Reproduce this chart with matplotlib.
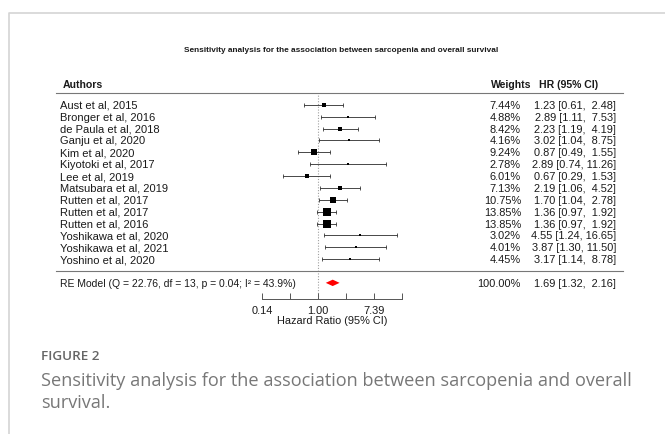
import numpy as np
import matplotlib
matplotlib.use("Agg")
import matplotlib.pyplot as plt
from matplotlib.lines import Line2D
from matplotlib import transforms

# data
authors = ["Aust et al, 2015", "Bronger et al, 2016", "de Paula et al, 2018",
           "Ganju et al, 2020", "Kim et al, 2020", "Kiyotoki et al, 2017",
           "Lee et al, 2019", "Matsubara et al, 2019", "Rutten et al, 2017",
           "Rutten et al, 2017", "Rutten et al, 2016", "Yoshikawa et al, 2020",
           "Yoshikawa et al, 2021", "Yoshino et al, 2020"]
weights = [7.44, 4.88, 8.42, 4.16, 9.24, 2.78, 6.01, 7.13, 10.75, 13.85, 13.85, 3.02, 4.01, 4.45]
hr = [1.23, 2.89, 2.23, 3.02, 0.87, 2.89, 0.67, 2.19, 1.70, 1.36, 1.36, 4.55, 3.87, 3.17]
ci_lo = [0.61, 1.11, 1.19, 1.04, 0.49, 0.74, 0.29, 1.06, 1.04, 0.97, 0.97, 1.24, 1.30, 1.14]
ci_hi = [2.48, 7.53, 4.19, 8.75, 1.55, 11.26, 1.53, 4.52, 2.78, 1.92, 1.92, 16.65, 11.50, 8.78]

pooled_hr, pooled_lo, pooled_hi, pooled_w = 1.69, 1.32, 2.16, 100.00
re_label = "RE Model (Q = 22.76, df = 13, p = 0.04; I\u00b2 = 43.9%)"

log_ticks = [-2, -1, 0, 1, 2, 3]
labelled_ticks = [-2, 0, 2]

W, H = 665, 435
fig = plt.figure(figsize=(W / 100, H / 100), dpi=100)
plt.rcParams["font.family"] = ["Liberation Sans", "DejaVu Sans"]

fs = 8.0
fs_num = 7.9
fs_hdr = 7.6
ink = "#1a1a1a"

# forest axes: x = log scale, y = row number (1 = bottom study)
ax = fig.add_axes([262 / W, 1 - 300 / H, 140 / W, 206 / H])
ax.set_xscale("log")
ticks = np.exp(log_ticks)
ax.set_xlim(ticks[0], ticks[-1])
ax.set_ylim(-2.36, 15)
for s in ["top", "left", "right"]:
    ax.spines[s].set_visible(False)
ax.spines["bottom"].set_color("#555555")
ax.spines["bottom"].set_linewidth(0.7)
ax.set_yticks([])
ax.set_xticks(ticks)
ax.set_xticks([], minor=True)
ax.set_xticklabels([f"{v:.2f}" if t in labelled_ticks else "" for v, t in zip(ticks, log_ticks)],
                   fontsize=fs_num, color=ink)
ax.tick_params(axis="x", direction="in", length=4, width=0.7, color="#555555", pad=4)
ax.set_xlabel("Hazard Ratio (95% CI)", fontsize=fs_num, color=ink, labelpad=0.5)
ax.patch.set_alpha(0)

k = len(authors)
rows = np.arange(k, 0, -1)

ax.axvline(1, color="#a0a0a0", lw=0.8, ls=(0, (1, 1.5)), zorder=0)

wmin, wmax = min(weights), max(weights)
for r, h, l, u, w in zip(rows, hr, ci_lo, ci_hi, weights):
    ax.plot([l, u], [r, r], color="#3a3a3a", lw=0.65, zorder=2)
    ax.plot([l, u], [r, r], ls="none", marker="|", ms=3, mew=0.6, color="#3a3a3a", zorder=2)
    side = 2.0 + (w - wmin) / (wmax - wmin) * 5.2
    ax.plot(h, r, marker="s", ms=side * 0.72, color="black", mew=0, zorder=3)

# pooled diamond
re_row = -1
ax.fill([pooled_lo, pooled_hr, pooled_hi, pooled_hr],
        [re_row, re_row + 0.27, re_row, re_row - 0.27], color="red", lw=0, zorder=3)

# text columns (x in figure fraction, y in row units)
tr = transforms.blended_transform_factory(fig.transFigure, ax.transData)
x_auth = 60 / W
x_w = 521 / W
x_hr = 616 / W

for r, a, h, l, u, w in zip(rows, authors, hr, ci_lo, ci_hi, weights):
    fig.text(x_auth, r, a, transform=tr, fontsize=fs, color=ink, va="center", ha="left")
    fig.text(x_w, r, f"{w:.2f}%", transform=tr, fontsize=fs_num, color=ink, va="center", ha="right")
    fig.text(x_hr, r, f"{h:.2f} [{l:.2f}, {u:5.2f}]", transform=tr, fontsize=fs_num,
             color=ink, va="center", ha="right")

fig.text(x_auth, re_row, re_label, transform=tr, fontsize=7.5, color=ink, va="center", ha="left")
fig.text(x_w, re_row, f"{pooled_w:.2f}%", transform=tr, fontsize=fs_num, color=ink, va="center", ha="right")
fig.text(x_hr, re_row, f"{pooled_hr:.2f} [{pooled_lo:.2f}, {pooled_hi:5.2f}]", transform=tr,
         fontsize=fs_num, color=ink, va="center", ha="right")

# headers
hdr_row = 15.8
fig.text(62.5 / W, hdr_row, "Authors", transform=tr, fontsize=fs_hdr, fontweight="bold", color=ink, va="center")
fig.text(531 / W, hdr_row, "Weights", transform=tr, fontsize=fs_hdr, fontweight="bold", color=ink,
         va="center", ha="right")
fig.text(598 / W, hdr_row, "HR (95% CI)", transform=tr, fontsize=fs_hdr, fontweight="bold", color=ink,
         va="center", ha="right")

# horizontal rules
for yr in [15, 0]:
    fig.add_artist(Line2D([56 / W, 623 / W], [yr, yr], transform=tr, color="#777777", lw=0.8))

# title
fig.text(341 / W, 1 - 51 / H,
         "Sensitivity analysis for the association between sarcopenia and overall survival",
         fontsize=5.95, fontweight="bold", color=ink, ha="center", va="center")

# page frame
fig.add_artist(Line2D([9 / W, 9 / W, 1], [0, 1 - 14 / H, 1 - 14 / H], color="#d4d4d4", lw=1.2))

# caption
fig.text(41 / W, 1 - 357 / H, "FIGURE 2", fontsize=9.7, color="#666666", family="Open Sans",
         fontweight="semibold", va="center")
fig.text(41 / W, 1 - 381 / H, "Sensitivity analysis for the association between sarcopenia and overall",
         fontsize=13.1, color="#777777", family="Open Sans", va="center")
fig.text(41 / W, 1 - 403 / H, "survival.", fontsize=13.1, color="#777777", family="Open Sans", va="center")

fig.savefig("out.png", dpi=100)
